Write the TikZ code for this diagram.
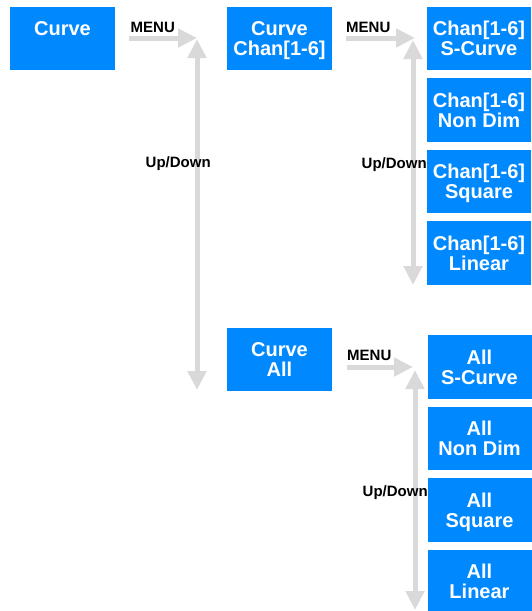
\documentclass[tikz,border=0pt]{standalone}
\usepackage{fontspec}
\setmainfont{Liberation Sans}
\usetikzlibrary{arrows.meta}
\definecolor{boxblue}{RGB}{0,137,255}
\definecolor{arrgray}{RGB}{217,217,217}
\newcommand\tl[1]{\smash{#1}\rule[-0.2pt]{0pt}{14.5pt}}
\begin{document}
\begin{tikzpicture}[x=1pt,y=-1pt,
  menubox/.style={rectangle,fill=boxblue,text=white,inner sep=0pt,
    minimum width=105pt,minimum height=63.5pt,align=center,
    font=\fontsize{20}{20}\selectfont\bfseries},
  rbox/.style={menubox,minimum width=104pt},
  garrow/.style={draw=arrgray,line width=5pt,-{Triangle[length=19pt,width=18pt]}},
  gdarrow/.style={draw=arrgray,line width=5pt,{Triangle[length=19pt,width=18pt]}-{Triangle[length=19pt,width=18pt]}},
  lbl/.style={inner sep=0pt,anchor=base west,font=\fontsize{15}{15}\selectfont\bfseries}]
\useasboundingbox (0,0) rectangle (531,611);
% boxes
\node[menubox] (curve) at (62.5,38.5) {\tl{Curve}\\\tl{}};
\node[menubox] (cc) at (279.5,38.5) {\tl{Curve}\\\tl{Chan[1-6]}};
\node[rbox] (c1) at (479,38.5) {\tl{Chan[1-6]}\\\tl{S-Curve}};
\node[rbox] (c2) at (479,110) {\tl{Chan[1-6]}\\\tl{Non Dim}};
\node[rbox] (c3) at (479,181.5) {\tl{Chan[1-6]}\\\tl{Square}};
\node[rbox] (c4) at (479,253) {\tl{Chan[1-6]}\\\tl{Linear}};
\node[menubox] (ca) at (279.5,359.5) {\tl{Curve}\\\tl{All}};
\node[rbox] (a1) at (479.5,367) {\tl{All}\\\tl{S-Curve}};
\node[rbox] (a2) at (479.5,438.5) {\tl{All}\\\tl{Non Dim}};
\node[rbox] (a3) at (479.5,510) {\tl{All}\\\tl{Square}};
\node[rbox] (a4) at (479.5,581.5) {\tl{All}\\\tl{Linear}};
% arrow end points
\coordinate (m1a) at (129,38);  \coordinate (m1b) at (197,38);
\coordinate (v1a) at (197,39);  \coordinate (v1b) at (197,390);
\coordinate (m2a) at (346,38);  \coordinate (m2b) at (415,38);
\coordinate (v2a) at (413,40);  \coordinate (v2b) at (413,285);
\coordinate (m3a) at (347,367); \coordinate (m3b) at (413,367);
\coordinate (v3a) at (415,370); \coordinate (v3b) at (415,610);
% arrows
\draw[garrow] (m1a) -- (m1b);
\draw[gdarrow] (v1a) -- (v1b);
\draw[garrow] (m2a) -- (m2b);
\draw[gdarrow] (v2a) -- (v2b);
\draw[garrow] (m3a) -- (m3b);
\draw[gdarrow] (v3a) -- (v3b);
% labels
\node[lbl] (menu1) at (130.5,32) {MENU};
\node[lbl] (menu2) at (346,32) {MENU};
\node[lbl] (menu3) at (347,360) {MENU};
\node[lbl] (ud1) at (145.5,167.5) {Up/Down};
\node[lbl] (ud2) at (361.5,168) {Up/Down};
\node[lbl] (ud3) at (362.5,496.5) {Up/Down};
\end{tikzpicture}
\end{document}
